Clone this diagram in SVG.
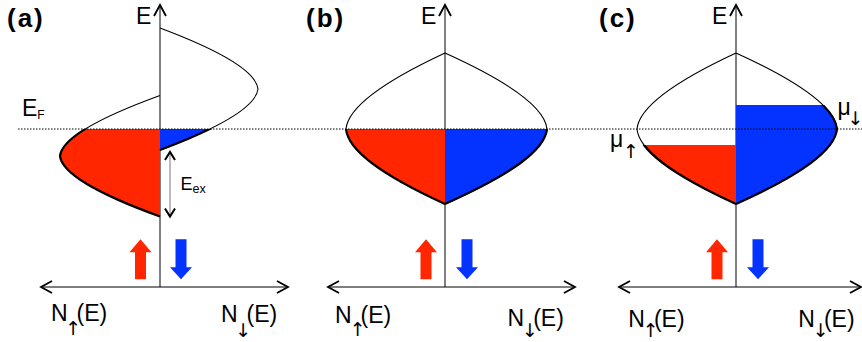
<svg xmlns="http://www.w3.org/2000/svg" width="862" height="342" viewBox="0 0 862 342">
<style>
text{font-family:"Liberation Sans","DejaVu Sans",sans-serif;fill:#000}
.lbl{font-size:23px}
.pl{font-size:26px;font-weight:bold;letter-spacing:2px}
.ax{stroke:#000;stroke-width:1;fill:none}
.vax{marker-end:url(#chev)}
.hax{marker-start:url(#chev);marker-end:url(#chev)}
.thin{fill:none;stroke:#000;stroke-width:1.1}
.bold{fill:none;stroke:#000;stroke-width:2.2}
.red{fill:#ff2600}
.blue{fill:#0433ff}
.ef{stroke:#000;stroke-width:1;stroke-dasharray:1.5 1.5;fill:none}
.sub{font-family:"DejaVu Sans",sans-serif;font-size:19px;text-anchor:middle}
</style>
<defs>
<marker id="chev" viewBox="-13 -8 15 16" refX="0" refY="0" markerWidth="15" markerHeight="16" markerUnits="userSpaceOnUse" orient="auto-start-reverse"><path d="M-11,-6 L0,0 L-11,6" fill="none" stroke="#000" stroke-width="1.8"/></marker>
<marker id="chs" viewBox="-10 -7 12 14" refX="0" refY="0" markerWidth="12" markerHeight="14" markerUnits="userSpaceOnUse" orient="auto-start-reverse"><path d="M-8,-5 L0,0 L-8,5" fill="none" stroke="#000" stroke-width="2"/></marker>
<clipPath id="c129"><rect x="0" y="129" width="862" height="213"/></clipPath>
<clipPath id="c145"><rect x="0" y="145" width="862" height="197"/></clipPath>
<clipPath id="c105"><rect x="0" y="105" width="862" height="237"/></clipPath>
<path id="aL" d="M160,95.5 C94,119.5 62,139 60,156 C62,173 94,192.5 160,216.5"/>
<path id="aR" d="M160,28 C225,52.4 256,72 258,89 C256,106 225,125.6 160,150"/>
<path id="bL" d="M445,53 C379.7,83.4 348,108 346,129 C348,150 379.7,174 445,204"/>
<path id="bR" d="M445,53 C512.3,83.4 545,108 547,129 C545,150 512.3,174 445,204"/>
<path id="cL" d="M736,53 C670.7,83.4 639,108 637,129 C639,150 670.7,174 736,204"/>
<path id="cR" d="M736,53 C802.7,83.4 835,108 837,129 C835,150 802.7,174 736,204"/>
<path id="up" d="M0,0 L11,13 L5.5,13 L5.5,40 L-5.5,40 L-5.5,13 L-11,13 Z"/>
<path id="dn" d="M-5.5,0 L5.5,0 L5.5,28 L11,28 L0,40 L-11,28 L-5.5,28 Z"/>
</defs>

<g id="connectors">
<line class="ax vax" x1="160" y1="287" x2="160" y2="5"/>
<line class="ax hax" x1="41" y1="287" x2="288" y2="287"/>
<line class="ax vax" x1="445" y1="287" x2="445" y2="5"/>
<line class="ax hax" x1="328" y1="287" x2="575" y2="287"/>
<line class="ax vax" x1="736" y1="287" x2="736" y2="5"/>
<line class="ax hax" x1="619" y1="287" x2="861" y2="287"/>
</g>

<g id="panel-a">
<use href="#aL" class="red" clip-path="url(#c129)"/>
<use href="#aR" class="blue" clip-path="url(#c129)"/>
<use href="#aL" class="thin"/>
<use href="#aR" class="thin"/>
<use href="#aL" class="bold" clip-path="url(#c129)"/>
<use href="#aR" class="bold" clip-path="url(#c129)"/>
<line x1="170" y1="152" x2="170" y2="216.5" stroke="#777" stroke-width="1" marker-start="url(#chs)" marker-end="url(#chs)"/>
<use href="#up" class="red" transform="translate(140.5,239.3)"/>
<use href="#dn" class="blue" transform="translate(181,239.3)"/>
</g>

<g id="panel-b">
<use href="#bL" class="red" clip-path="url(#c129)"/>
<use href="#bR" class="blue" clip-path="url(#c129)"/>
<use href="#bL" class="thin"/>
<use href="#bR" class="thin"/>
<use href="#bL" class="bold" clip-path="url(#c129)"/>
<use href="#bR" class="bold" clip-path="url(#c129)"/>
<use href="#up" class="red" transform="translate(426,239.3)"/>
<use href="#dn" class="blue" transform="translate(467,239.3)"/>
</g>

<g id="panel-c">
<use href="#cL" class="red" clip-path="url(#c145)"/>
<use href="#cR" class="blue" clip-path="url(#c105)"/>
<use href="#cL" class="thin"/>
<use href="#cR" class="thin"/>
<use href="#cL" class="bold" clip-path="url(#c145)"/>
<use href="#cR" class="bold" clip-path="url(#c105)"/>
<use href="#up" class="red" transform="translate(717,239.3)"/>
<use href="#dn" class="blue" transform="translate(758,239.3)"/>
</g>

<line id="fermi" class="ef" x1="18" y1="129" x2="862" y2="129"/>

<g id="labels">
<text class="pl" x="7" y="26.6">(a)</text>
<text class="pl" x="306" y="26.6">(b)</text>
<text class="pl" x="599" y="26.6">(c)</text>
<text class="lbl" x="136" y="24">E</text>
<text class="lbl" x="421" y="24">E</text>
<text class="lbl" x="712" y="24">E</text>
<text class="lbl" x="22" y="115.7">E<tspan font-size="12" dy="3.3">F</tspan></text>
<text x="180.5" y="190" font-size="18">E<tspan font-size="12.5" dy="3.3">ex</tspan></text>
<text class="lbl" y="147"><tspan x="610">μ</tspan><tspan class="sub" x="631" y="158">↑</tspan></text>
<text class="lbl" y="114.7"><tspan x="837.5">μ</tspan><tspan class="sub" x="855.5" y="125">↓</tspan></text>
<text class="lbl" y="321"><tspan x="51">N</tspan><tspan class="sub" x="73.3" y="335">↑</tspan><tspan x="76.5" y="321">(E)</tspan></text>
<text class="lbl" y="322"><tspan x="221">N</tspan><tspan class="sub" x="243.3" y="336.5">↓</tspan><tspan x="246.5" y="322">(E)</tspan></text>
<text class="lbl" y="323"><tspan x="335">N</tspan><tspan class="sub" x="357.6" y="336">↑</tspan><tspan x="360.6" y="323">(E)</tspan></text>
<text class="lbl" y="326"><tspan x="507.6">N</tspan><tspan class="sub" x="529.9" y="337">↓</tspan><tspan x="533.2" y="326">(E)</tspan></text>
<text class="lbl" y="327"><tspan x="628.3">N</tspan><tspan class="sub" x="650.6" y="337">↑</tspan><tspan x="653.9" y="327">(E)</tspan></text>
<text class="lbl" y="327"><tspan x="798.3">N</tspan><tspan class="sub" x="820.6" y="337">↓</tspan><tspan x="823.9" y="327">(E)</tspan></text>
</g>
</svg>
